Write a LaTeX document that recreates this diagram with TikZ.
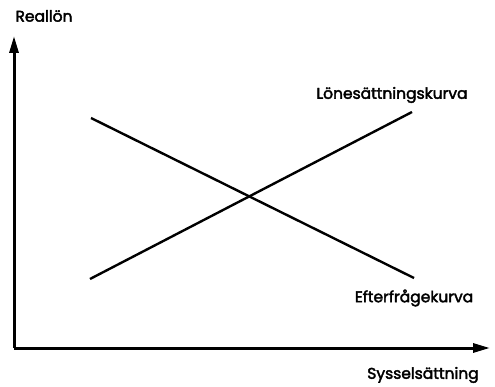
\documentclass[tikz,border=0pt]{standalone}
\usepackage{fontspec}
\newfontfamily\lblfont{Poppins}[RawFeature={embolden=2.5}]
\usetikzlibrary{arrows.meta}
\begin{document}
\begin{tikzpicture}[x=1pt,y=-1pt,
  axis/.style={line width=3pt,-{Triangle[length=17pt,width=9pt]}},
  curve/.style={line width=2.4pt},
  lbl/.style={font=\fontsize{15.5}{18}\lblfont, inner sep=0pt}]
\useasboundingbox (0,0) rectangle (495,387);
\coordinate (O) at (14,348);
\coordinate (Ytop) at (14,36);
\coordinate (Xend) at (490,348);
\draw[axis] (O) -- (Ytop);
\draw[axis] (O) -- (Xend);
\coordinate (L1) at (90,279);
\coordinate (L2) at (412,112);
\coordinate (E1) at (91,118);
\coordinate (E2) at (414,278);
\draw[curve] (L1) -- (L2);
\draw[curve] (E1) -- (E2);
\node[lbl] (ylab) at (44,16) {Reallön};
\node[lbl] (llab) at (392,95) {Lönesättningskurva};
\node[lbl] (elab) at (414,298) {Efterfrågekurva};
\node[lbl] (xlab) at (423,375) {Sysselsättning};
\end{tikzpicture}
\end{document}
